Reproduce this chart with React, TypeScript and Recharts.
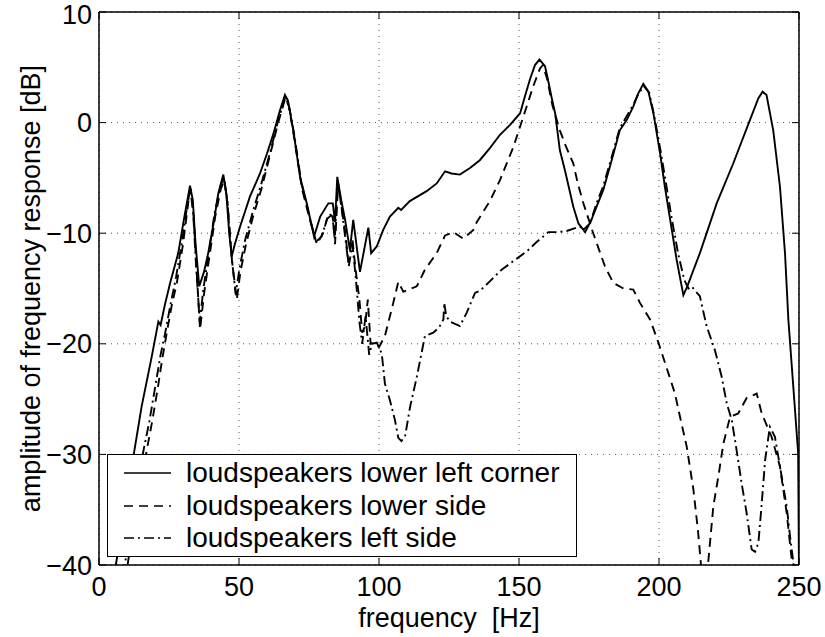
import React from "react";
import {
  LineChart,
  Line,
  XAxis,
  YAxis,
  CartesianGrid,
  ReferenceLine,
  Legend,
} from "recharts";

const FONT = '"Liberation Sans", Arial, Helvetica, sans-serif';
const PLOT_TOP = 12;
const PLOT_BOTTOM = 565;
const PLOT_LEFT = 99;
const PLOT_RIGHT = 799;

const X_TICKS = [0, 50, 100, 150, 200, 250];
const Y_TICKS = [-40, -30, -20, -10, 0, 10];

// [frequency Hz, amplitude dB]
const lowerLeftCorner: [number, number][] = [
  [3, -45], [6, -40], [9, -35.5], [12.6, -29.7], [15.2, -25.7], [18.8, -21.2],
  [21.2, -18], [22, -18.3], [23.5, -16.5], [25.4, -14.5], [28.3, -11.8],
  [30.5, -8.5], [32.5, -5.7], [33.5, -7], [34.5, -11], [35.8, -14.8],
  [37.5, -13.5], [39, -11.8], [41, -9], [42.6, -6.4], [44.4, -4.7],
  [45.5, -6.5], [46.5, -10], [47.4, -12.1], [48.5, -11], [50.4, -9.4],
  [53.9, -6.7], [57.5, -4.6], [60, -2.8], [62.3, -1], [64.5, 1], [66.4, 2.5],
  [67.5, 2], [69.4, -0.7], [71.8, -4.9], [74.2, -7.3], [76.8, -10.3],
  [79, -8.5], [81.9, -7.3], [83.5, -7.3], [84.3, -9], [85.1, -4.9],
  [86.5, -7], [87.9, -8.8], [89.6, -11.5], [90.8, -8.8], [93.2, -13.5],
  [96.2, -9.5], [97.2, -11.8], [99.2, -11.2], [101.5, -9.7], [103.9, -8.5],
  [106.9, -7.7], [107.9, -7.9], [111, -7.1], [117, -6.2], [120.6, -5.5],
  [123.6, -4.4], [125.9, -4.6], [128.9, -4.7], [132.5, -4.1], [136, -3.4],
  [139.6, -2.3], [143.2, -1.1], [146.8, -0.2], [150.4, 0.85], [152.1, 2.35],
  [153.9, 3.9], [155.7, 5.2], [157.3, 5.7], [159.3, 5.1], [160.5, 3.7],
  [161.7, 2.2], [162.9, 0.85], [164.6, -2.5], [166.4, -4.3], [169.4, -7.6],
  [171.2, -9.1], [173, -9.7], [175.4, -9.1], [177.7, -7.6], [180.1, -6.1],
  [183.1, -3.4], [186, -0.7], [188.5, 0.25], [190.8, 1.45], [192.6, 2.65],
  [194.4, 3.5], [196.2, 2.8], [198, 0.85], [200.4, -2.8], [202.1, -5.8],
  [204, -8.8], [206.3, -12.4], [208.7, -15.6], [210.1, -14.8], [214.6, -11.8],
  [220.6, -7.3], [226.5, -3.7], [232.5, 0.25], [235.5, 2.2], [237, 2.8],
  [238.4, 2.5], [240.8, -0.7], [243.2, -5.8], [245, -11.8], [246.2, -17.8],
  [248, -24], [249.7, -29.9], [250, -41],
];

const lowerSide: [number, number][] = [
  [6, -48], [9, -42], [12, -37], [14.5, -33], [17, -29.7], [19, -27],
  [21, -24], [22.5, -21.5], [24.2, -19], [26, -16.5], [27.8, -14.5],
  [30, -11], [32, -7], [32.8, -6], [33.8, -8.5], [35, -14], [36.1, -18.7],
  [37.5, -15.5], [39.5, -12], [41.5, -8.5], [43.5, -6], [44.8, -5.2],
  [46, -7.5], [47.5, -12.5], [49.2, -16], [50.5, -13.5], [52.5, -11],
  [55, -8.5], [58, -6], [61, -3], [64, 0], [66.5, 2.2], [67.8, 1.5],
  [69.8, -1.5], [72.5, -6], [75, -8.5], [77.8, -11], [80, -10], [82, -8.2],
  [83.5, -8.5], [84.3, -11], [85.4, -5.5], [86.8, -8], [88, -10], [89, -12.5],
  [90.5, -10.5], [91.5, -13], [93, -16], [94, -19], [95, -18.4], [96, -16],
  [97, -20], [98.6, -19.9], [100, -20.3], [102.1, -19.3], [105.1, -16.3],
  [106.9, -14.4], [108.7, -15.3], [113.5, -14.8], [116.4, -13.3],
  [120.6, -11.8], [123.6, -10.2], [126.5, -9.9], [130.1, -10.5],
  [133.7, -9.7], [134.9, -9], [139.6, -7.1], [143.2, -5.2], [148, -2.2],
  [151.5, 0.5], [155.1, 3.3], [157.5, 4.9], [158.5, 5.2], [160, 4],
  [162, 1.5], [164.6, -0.7], [166.5, -2], [169.4, -3.7], [171, -5.5],
  [173, -7.3], [176.5, -10], [180.7, -13], [183.7, -14.5], [187.3, -15],
  [190.8, -15.1], [193.2, -16.3], [196.8, -17.8], [199.8, -19.9],
  [203.4, -22.7], [205.7, -24.5], [207.5, -26.6], [209.9, -29.3],
  [212.3, -33.2], [214, -37.1], [215, -40], [216, -43], [217, -42],
  [217.6, -39.7], [219.4, -34.7], [221.2, -32], [223, -29], [225.4, -26.6],
  [228.3, -26.3], [231.3, -24.9], [234.9, -24.5], [236.7, -26.3],
  [240.2, -28.4], [243.2, -31.1], [245.6, -35.3], [247.4, -39.5], [248.5, -43],
];

const leftSide: [number, number][] = [
  [5, -48], [8, -42], [11, -37], [13.5, -33], [16, -29.5], [18, -27],
  [20, -24], [22, -21], [23.5, -19.2], [25.5, -16.5], [27.5, -14],
  [29.5, -11], [31.5, -7.5], [32.6, -6], [33.6, -8], [34.8, -13.5], [36, -18],
  [37.3, -15], [39.2, -11.8], [41.2, -8.3], [43.3, -5.8], [44.6, -5],
  [45.8, -7], [47.3, -12], [48.8, -15.5], [50.3, -13], [52.3, -10.5],
  [55, -8], [58, -5.5], [61, -2.8], [64, 0.2], [66.5, 2.3], [67.8, 1.6],
  [69.8, -1.2], [72.3, -5.5], [75, -8.3], [77.5, -10.8], [79.5, -10.3],
  [81.5, -8.7], [83.3, -8.3], [84.2, -10.5], [85.3, -5.3], [86.7, -7.8],
  [88, -10.5], [89.2, -13], [90.5, -11], [91.7, -14], [93, -18], [94, -20],
  [95.2, -17.5], [96.5, -21], [97.5, -20], [99.2, -19.9], [101, -20.9],
  [102.1, -23.6], [103.9, -25.1], [105.7, -26.9], [106.9, -28.5],
  [108, -28.8], [109.3, -28.4], [111.1, -25.7], [113.5, -23], [116.4, -19.3],
  [119.4, -19], [121.5, -18.5], [123, -17.8], [123.3, -16.3], [124, -17.5],
  [125.4, -18], [128.9, -18.4], [131.3, -17.2], [134.3, -15.4],
  [136.1, -15.2], [140.2, -14.2], [143.8, -13.3], [149.2, -12.3],
  [153, -11.6], [156.3, -10.8], [160.5, -9.9], [164, -9.9], [167, -9.8],
  [171.8, -9.4], [173.6, -9.9], [175.5, -9], [177.7, -7.3], [180, -5.8],
  [183, -3.2], [186, -0.5], [188.5, 0.6], [190.8, 1.6], [192.6, 2.6],
  [194.6, 3.3], [196.5, 2.7], [198.3, 0.6], [200.6, -2.6], [202.5, -5.5],
  [204.5, -8.6], [206.8, -11.8], [209, -14.2], [210.5, -15], [211.6, -14.8],
  [214.6, -15.7], [217, -18.4], [220, -20.6], [222.4, -23], [224.2, -25.4],
  [226, -26.9], [227.7, -29.6], [229.5, -32.6], [231.3, -35.3],
  [233.1, -38.6], [234.3, -38.8], [235.5, -38], [236.7, -34.4],
  [237.9, -30.5], [239.6, -27.5], [241.4, -28.4], [243.8, -32],
  [245.6, -34.7], [246.8, -37.4], [248, -39.8], [249, -43],
];

const toRows = (pts: [number, number][]) => pts.map(([f, y]) => ({ f, y }));

const SERIES = [
  { name: "loudspeakers lower left corner", data: toRows(lowerLeftCorner), dash: undefined },
  { name: "loudspeakers lower side", data: toRows(lowerSide), dash: "9 6" },
  { name: "loudspeakers left side", data: toRows(leftSide), dash: "10 4 2 4" },
];

const fmt = (v: number) => (v < 0 ? "\u2212" + Math.abs(v) : String(v));

const XTick = (props: any) => {
  const { x, y, payload } = props;
  return (
    <g>
      <line x1={x} x2={x} y1={PLOT_BOTTOM} y2={PLOT_BOTTOM - 7} stroke="#000" />
      <line x1={x} x2={x} y1={PLOT_TOP} y2={PLOT_TOP + 7} stroke="#000" />
      <text x={x} y={y} dy="0.71em" textAnchor="middle" fontSize={27} fontFamily={FONT} fill="#000">
        {fmt(payload.value)}
      </text>
    </g>
  );
};

const YTick = (props: any) => {
  const { x, y, payload } = props;
  // top label sits right at the chart edge, keep it inside
  const shift = payload.value === 10 ? 2 : 0;
  return (
    <g>
      <line x1={PLOT_LEFT} x2={PLOT_LEFT + 7} y1={y} y2={y} stroke="#000" />
      <line x1={PLOT_RIGHT} x2={PLOT_RIGHT - 7} y1={y} y2={y} stroke="#000" />
      <text x={x} y={y + shift} dy="0.355em" textAnchor="end" fontSize={27} fontFamily={FONT} fill="#000">
        {fmt(payload.value)}
      </text>
    </g>
  );
};

const LegendBox = () => (
  <div
    style={{
      width: 470,
      height: 103,
      background: "#fff",
      border: "1.5px solid #000",
      boxSizing: "border-box",
      paddingTop: 2,
      fontFamily: FONT,
      fontSize: 28,
      color: "#000",
    }}
  >
    {SERIES.map((s) => (
      <div key={s.name} style={{ display: "flex", alignItems: "center", height: 32.5 }}>
        <svg width={78} height={10} style={{ flex: "none" }}>
          <line x1={16} x2={63} y1={5} y2={5} stroke="#000" strokeWidth={1.6} strokeDasharray={s.dash} />
        </svg>
        <span style={{ whiteSpace: "pre", lineHeight: 1 }}>{s.name}</span>
      </div>
    ))}
  </div>
);

export default function App() {
  return (
    <div>
      <style>{`body{margin:0}`}</style>
      <LineChart
        width={825}
        height={637}
        margin={{ top: PLOT_TOP, right: 825 - PLOT_RIGHT, left: 0, bottom: 0 }}
      >
        <CartesianGrid stroke="#555" strokeDasharray="1 5" />
        <XAxis
          type="number"
          dataKey="f"
          domain={[0, 250]}
          ticks={X_TICKS}
          allowDataOverflow
          height={637 - PLOT_BOTTOM}
          tickSize={0}
          tickMargin={12}
          tickLine={false}
          tick={<XTick />}
          axisLine={{ stroke: "#000", strokeWidth: 1.5 }}
          label={() => (
            <text x={(PLOT_LEFT + PLOT_RIGHT) / 2} y={627} textAnchor="middle" fontSize={27} fontFamily={FONT} fill="#000">
              {"frequency\u00a0 [Hz]"}
            </text>
          )}
        />
        <YAxis
          type="number"
          domain={[-40, 10]}
          ticks={Y_TICKS}
          allowDataOverflow
          width={PLOT_LEFT}
          tickSize={0}
          tickMargin={7}
          tickLine={false}
          tick={<YTick />}
          axisLine={{ stroke: "#000", strokeWidth: 1.5 }}
          label={() => (
            <text
              x={31}
              y={(PLOT_TOP + PLOT_BOTTOM) / 2}
              transform={`rotate(-90 31 ${(PLOT_TOP + PLOT_BOTTOM) / 2})`}
              textAnchor="middle"
              dominantBaseline="central"
              fontSize={27}
              fontFamily={FONT}
              fill="#000"
            >
              amplitude of frequency response [dB]
            </text>
          )}
        />
        <ReferenceLine y={10} stroke="#000" strokeWidth={1.5} />
        <ReferenceLine x={250} stroke="#000" strokeWidth={1.5} />
        {SERIES.map((s) => (
          <Line
            key={s.name}
            data={s.data}
            dataKey="y"
            name={s.name}
            type="linear"
            stroke="#000"
            strokeWidth={1.9}
            strokeDasharray={s.dash}
            dot={false}
            activeDot={false}
            isAnimationActive={false}
          />
        ))}
        <Legend
          layout="vertical"
          align="center"
          verticalAlign="middle"
          content={<LegendBox />}
          wrapperStyle={{ left: 107, top: 454, width: 470, height: 103 }}
        />
      </LineChart>
    </div>
  );
}
